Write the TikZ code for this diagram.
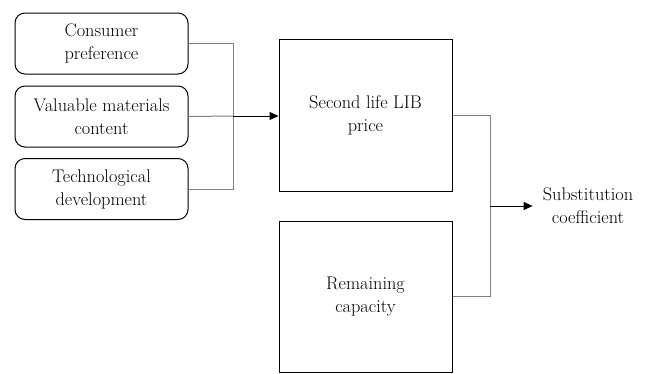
\documentclass[tikz,border=0pt]{standalone}
\usepackage{tikz}
\usetikzlibrary{arrows.meta, positioning}

\begin{document}
\begin{tikzpicture}[
    x=1pt, y=-1pt,
    every node/.style={font=\fontsize{18.3}{23}\selectfont, align=center},
    factor/.style={draw, rounded corners=10pt, line width=1pt, minimum width=173pt, minimum height=61pt, inner sep=0pt},
    block/.style={draw, line width=1pt, minimum width=173pt, inner sep=0pt},
    link/.style={draw=black!50, line width=1pt},
    arrow/.style={draw, line width=1pt, -{Triangle[length=9pt,width=8pt]}}
]
\useasboundingbox (0,0) rectangle (646,373);
\node[factor] (consumer) at (101.5, 43.5) {Consumer\\preference};
\node[factor] (valuable) at (101.5, 116.5) {Valuable materials\\content};
\node[factor] (tech) at (101.5, 189) {Technological\\development};
\node[block, minimum height=152pt] (price) at (365.5, 115) {Second life LIB\\price};
\node[block, minimum height=151pt] (capacity) at (365.5, 296.5) {Remaining\\capacity};
\node[inner xsep=10pt, inner ysep=0pt] (subst) at (588, 206) {Substitution\\coefficient};
\coordinate (jl) at (233, 116);
\coordinate (jr) at (490, 206);
\draw[link] (consumer.east) -| (jl);
\draw[link] (tech.east) -| (jl);
\draw[link] (valuable.east) -- (jl);
\draw[arrow] (jl) -- (price.west |- jl);
\draw[link] (price.east) -| (jr);
\draw[link] (capacity.east) -| (jr);
\draw[arrow] (jr) -- (subst.west);
\end{tikzpicture}
\end{document}
